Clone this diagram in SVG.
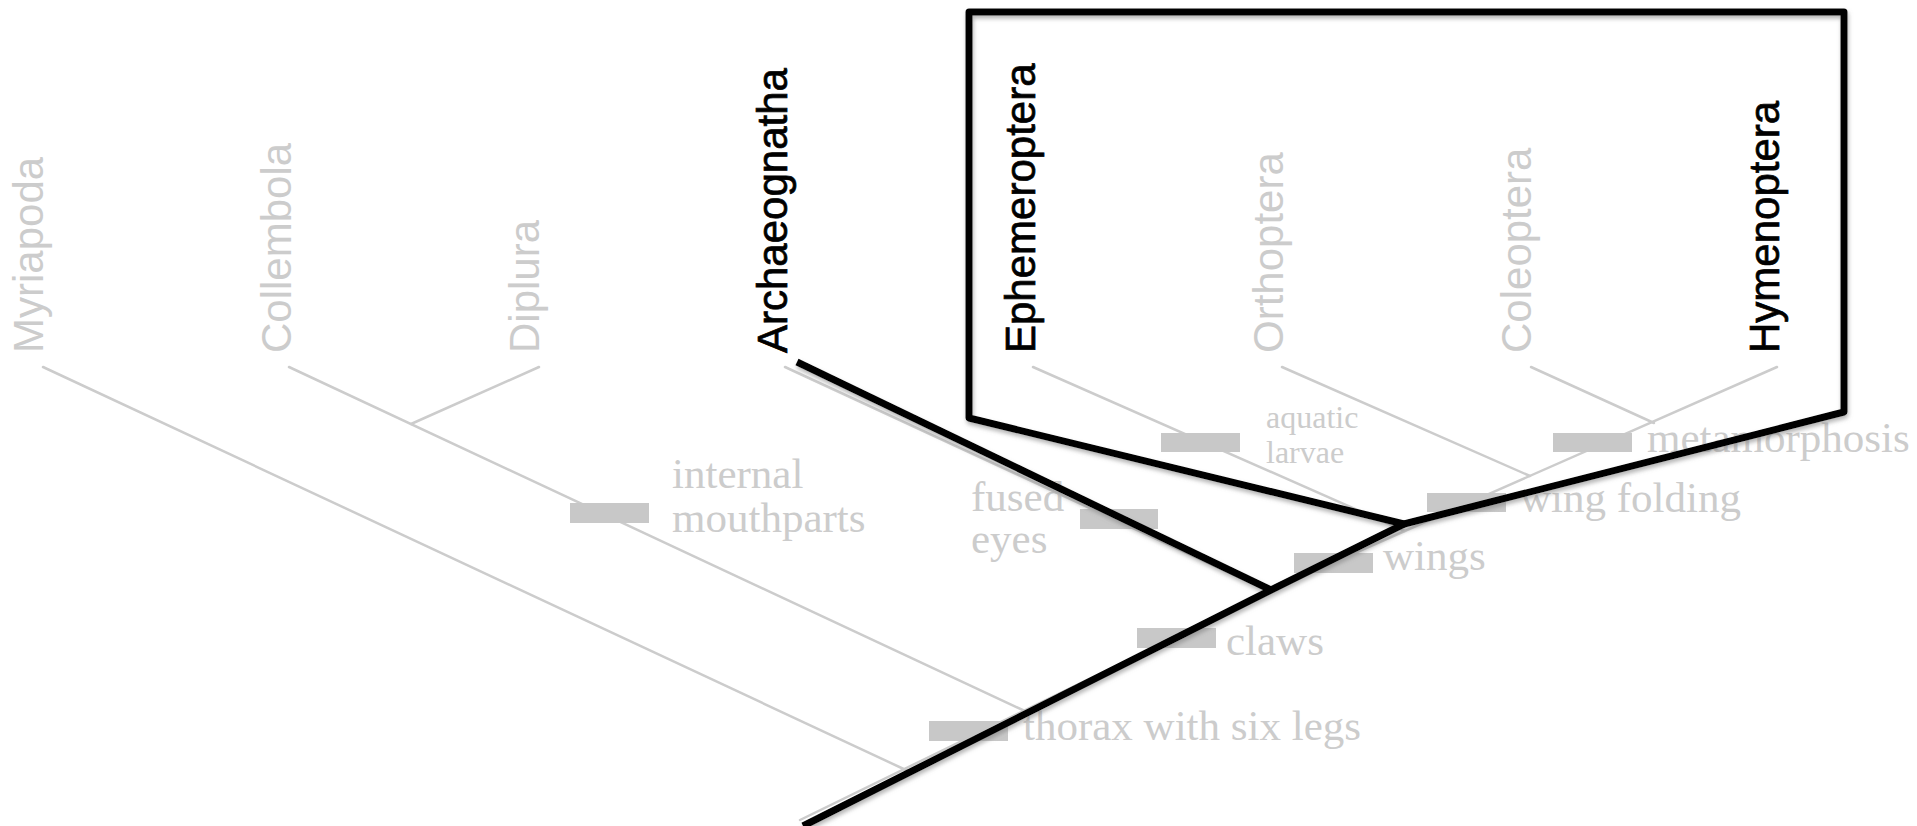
<svg xmlns="http://www.w3.org/2000/svg" width="1917" height="826" viewBox="0 0 1917 826">
<defs>
<filter id="shadow" x="-5%" y="-5%" width="110%" height="115%">
<feDropShadow dx="1" dy="3" stdDeviation="2" flood-color="#777777" flood-opacity="0.55"/>
</filter>
</defs>
<style>
.bg{fill:#ffffff}
.gl{stroke:#cccccc;stroke-width:2.5;fill:none;stroke-linecap:round}
.bl{stroke:#000000;stroke-width:7;fill:none;stroke-linejoin:round;stroke-linecap:butt}
.tax{font-family:"Liberation Sans",Arial,sans-serif;font-size:42px}
.gray{fill:#cccccc}
.black{fill:#000000;stroke:#000000;stroke-width:0.7}
.trait{font-family:"Liberation Serif","Times New Roman",serif;font-size:43px;fill:#cccccc}
.small{font-size:32px}
.bar{fill:#c8c8c8}
</style>
<rect class="bg" x="0" y="0" width="1917" height="826"/>
<g id="connectors">
<line class="gl" x1="43" y1="367" x2="908" y2="771"/>
<line class="gl" x1="289" y1="367" x2="1027" y2="712"/>
<line class="gl" x1="539" y1="367" x2="411" y2="424"/>
<line class="gl" x1="785" y1="367" x2="1271" y2="592"/>
<line class="gl" x1="1033" y1="367" x2="1405" y2="531"/>
<line class="gl" x1="1282" y1="367" x2="1530" y2="476"/>
<line class="gl" x1="1531" y1="367" x2="1654" y2="423"/>
<line class="gl" x1="1777" y1="367" x2="1271" y2="590"/>
<line class="gl" x1="800" y1="820" x2="1271" y2="590"/>
</g>
<g id="bars">
<rect id="bar-internal" class="bar" x="570" y="503" width="79" height="20"/>
<rect id="bar-fused" class="bar" x="1080" y="509" width="78" height="20"/>
<rect id="bar-aquatic" class="bar" x="1161" y="433" width="79" height="19"/>
<rect id="bar-thorax" class="bar" x="929" y="721" width="79" height="20"/>
<rect id="bar-claws" class="bar" x="1137" y="628" width="79" height="20"/>
<rect id="bar-wings" class="bar" x="1294" y="553" width="79" height="20"/>
<rect id="bar-wingfold" class="bar" x="1427" y="493" width="79" height="19"/>
<rect id="bar-meta" class="bar" x="1553" y="433" width="79" height="19"/>
</g>
<g id="traits">
<text class="trait" x="672" y="488">internal</text>
<text class="trait" x="672" y="532">mouthparts</text>
<text class="trait" x="971" y="511">fused</text>
<text class="trait" x="971" y="553">eyes</text>
<text class="trait small" x="1266" y="428">aquatic</text>
<text class="trait small" x="1266" y="463">larvae</text>
<text class="trait" x="1023" y="740">thorax with six legs</text>
<text class="trait" x="1226" y="655">claws</text>
<text class="trait" x="1383" y="570">wings</text>
<text class="trait" x="1520" y="512">wing folding</text>
<text class="trait" x="1647" y="452">metamorphosis</text>
</g>
<g id="taxa">
<g id="myriapoda"><text class="tax gray" transform="translate(43,353) rotate(-90)">Myriapoda</text></g>
<g id="collembola"><text class="tax gray" transform="translate(291,353) rotate(-90)">Collembola</text></g>
<g id="diplura"><text class="tax gray" transform="translate(539,353) rotate(-90)">Diplura</text></g>
<g id="archaeognatha"><text class="tax black" transform="translate(787,353) rotate(-90)">Archaeognatha</text></g>
<g id="ephemeroptera"><text class="tax black" transform="translate(1035,353) rotate(-90)">Ephemeroptera</text></g>
<g id="orthoptera"><text class="tax gray" transform="translate(1283,353) rotate(-90)">Orthoptera</text></g>
<g id="coleoptera"><text class="tax gray" transform="translate(1531,353) rotate(-90)">Coleoptera</text></g>
<g id="hymenoptera"><text class="tax black" transform="translate(1779,353) rotate(-90)">Hymenoptera</text></g>
</g>
<g id="highlight" filter="url(#shadow)">
<polyline class="bl" points="803,826 1271,590 1404,524"/>
<line class="bl" x1="797" y1="362" x2="1271" y2="590"/>
<polygon class="bl" points="969,12 1844,12 1844,412 1404,524 969,418"/>
</g>
</svg>
